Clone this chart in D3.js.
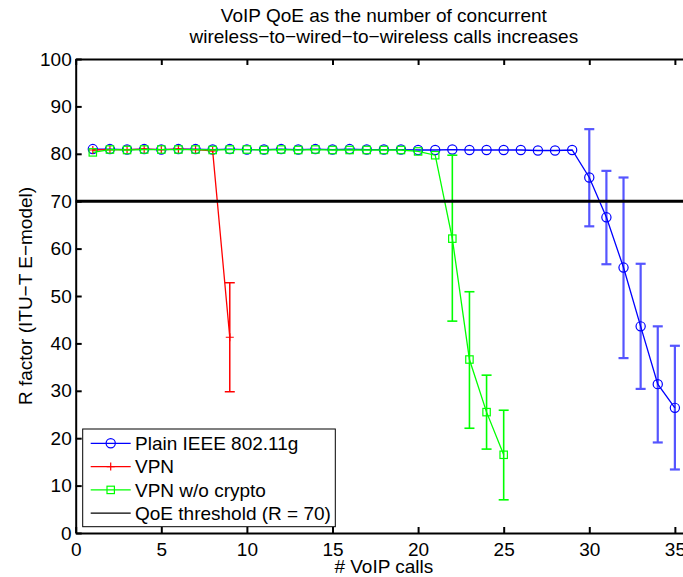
<!DOCTYPE html>
<html>
<head>
<meta charset="utf-8">
<script src="https://cdnjs.cloudflare.com/ajax/libs/d3/7.8.5/d3.min.js"></script>
<style>
    body { margin: 0; background: #fff; }
    svg { display: block; font-family: "Liberation Sans", Arial, Helvetica, sans-serif; }
    .axis path, .axis line { stroke: #000; stroke-width: 2; }
    .axis text { font-size: 19px; fill: #000; }
    .label { font-size: 19px; fill: #000; }
</style>
</head>
<body>
<div id="chart"></div>
<script>

// calls on the x axis
var plain_calls = d3.range(1, 36);
var vpn_calls = d3.range(1, 10);
var nocrypto_calls = d3.range(1, 26);

// mean R factor
var plain_values = [81.0, 81.0, 80.9, 81.0, 80.9, 81.0, 81.0, 80.9, 81.0, 80.9,
    80.9, 81.0, 80.9, 81.0, 80.9, 81.0, 80.9, 80.9, 80.9, 80.8,
    80.8, 80.9, 80.8, 80.8, 80.8, 80.8, 80.7, 80.7, 80.8, 75.0,
    66.6, 56.0, 43.6, 31.4, 26.4];
var vpn_values = [80.8, 80.9, 80.9, 81.0, 80.9, 81.0, 80.9, 80.6, 41.3];
var nocrypto_values = [80.3, 80.9, 80.8, 80.9, 80.9, 80.9, 80.9, 80.8, 80.9, 80.9,
    80.8, 80.9, 80.8, 80.9, 80.8, 80.8, 80.8, 80.8, 80.8, 80.5,
    79.7, 62.1, 36.6, 25.5, 16.5];

// error bars: [call, low, high]
var plain_errors = [[30, 64.7, 85.2], [31, 56.7, 76.4], [32, 36.9, 75.0],
    [33, 30.4, 56.8], [34, 19.1, 43.6], [35, 13.4, 39.5]];
var vpn_errors = [[9, 29.8, 52.8]];
var nocrypto_errors = [[22, 44.7, 79.7], [23, 22.1, 50.9], [24, 17.7, 33.3], [25, 7.0, 25.9]];

var threshold = 70;

var series_names = ["Plain IEEE 802.11g", "VPN", "VPN w/o crypto", "QoE threshold (R = 70)"];
var x_ticks = [0, 5, 10, 15, 20, 25, 30, 35];
var y_ticks = [0, 10, 20, 30, 40, 50, 60, 70, 80, 90, 100];

var width = 683, height = 577;
var margin = {top: 59, left: 75.7};
var w = 616.3, h = 474;

var svg = d3.select("#chart").append("svg")
    .attr("width", width)
    .attr("height", height);

var g = svg.append("g")
    .attr("transform", "translate(" + margin.left + "," + margin.top + ")");

var x = d3.scaleLinear().domain([0, 36]).range([0, w]);
var y = d3.scaleLinear().domain([0, 100]).range([h, 0]);

var series = [
    {name: series_names[0], calls: plain_calls, values: plain_values, errors: plain_errors,
        color: "#0000ff", bar_color: "#5555ff", bar_width: 2.2, marker: "circle"},
    {name: series_names[1], calls: vpn_calls, values: vpn_values, errors: vpn_errors,
        color: "#ff0000", bar_color: "#ff0000", bar_width: 1.5, marker: "plus"},
    {name: series_names[2], calls: nocrypto_calls, values: nocrypto_values, errors: nocrypto_errors,
        color: "#00ff00", bar_color: "#00ff00", bar_width: 1.6, marker: "square"}
];

var line = d3.line()
    .x(function(d) { return x(d[0]); })
    .y(function(d) { return y(d[1]); });

function drawMarker(sel, type, color) {
    if (type == "circle") {
        sel.append("circle").attr("r", 4.6)
            .attr("fill", "none").attr("stroke", color).attr("stroke-width", 1.2);
    } else if (type == "square") {
        sel.append("rect").attr("x", -3.7).attr("y", -3.7).attr("width", 7.4).attr("height", 7.4)
            .attr("fill", "none").attr("stroke", color).attr("stroke-width", 1.2);
    } else {
        sel.append("path").attr("d", "M-4,0H4M0,-4V4")
            .attr("stroke", color).attr("stroke-width", 1.2);
    }
}

series.forEach(function(s) {
    var pts = s.calls.map(function(c, i) { return [c, s.values[i]]; });
    var sg = g.append("g");

    // error bars
    var eb = sg.selectAll(".err").data(s.errors).enter().append("g")
        .attr("stroke", s.bar_color)
        .attr("stroke-width", s.bar_width);
    eb.append("line")
        .attr("x1", function(d) { return x(d[0]); })
        .attr("x2", function(d) { return x(d[0]); })
        .attr("y1", function(d) { return y(d[1]); })
        .attr("y2", function(d) { return y(d[2]); });
    [1, 2].forEach(function(k) {
        eb.append("line")
            .attr("x1", function(d) { return x(d[0]) - 5; })
            .attr("x2", function(d) { return x(d[0]) + 5; })
            .attr("y1", function(d) { return y(d[k]); })
            .attr("y2", function(d) { return y(d[k]); });
    });

    sg.append("path")
        .datum(pts)
        .attr("fill", "none")
        .attr("stroke", s.color)
        .attr("stroke-width", 1.3)
        .attr("d", line);

    sg.selectAll(".pt").data(pts).enter().append("g")
        .attr("transform", function(d) { return "translate(" + x(d[0]) + "," + y(d[1]) + ")"; })
        .each(function() { drawMarker(d3.select(this), s.marker, s.color); });
});

// threshold
g.append("line")
    .attr("x1", 0).attr("x2", w)
    .attr("y1", y(threshold)).attr("y2", y(threshold))
    .attr("stroke", "#000").attr("stroke-width", 3);

// axes (ticks point inwards like matlab)
g.append("g").attr("class", "axis")
    .attr("transform", "translate(0," + h + ")")
    .call(d3.axisBottom(x).tickValues(x_ticks).tickSizeInner(-6).tickSizeOuter(0).tickPadding(9.5));
g.append("g").attr("class", "axis")
    .call(d3.axisTop(x).tickValues(x_ticks).tickSizeInner(-6).tickSizeOuter(0).tickFormat(""));
g.append("g").attr("class", "axis")
    .call(d3.axisLeft(y).tickValues(y_ticks).tickSizeInner(-6).tickSizeOuter(0).tickPadding(4));
g.append("g").attr("class", "axis")
    .attr("transform", "translate(" + w + ",0)")
    .call(d3.axisRight(y).tickValues(y_ticks).tickSizeInner(-6).tickSizeOuter(0).tickFormat(""));
g.selectAll(".axis .tick line").attr("stroke-width", 1);

// title and labels
svg.append("text").attr("class", "label")
    .attr("text-anchor", "middle")
    .attr("x", margin.left + w / 2).attr("y", 21.7)
    .text("VoIP QoE as the number of concurrent");
svg.append("text").attr("class", "label")
    .attr("text-anchor", "middle")
    .attr("x", margin.left + w / 2).attr("y", 43.3)
    .text("wireless\u2212to\u2212wired\u2212to\u2212wireless calls increases");
svg.append("text").attr("class", "label")
    .attr("text-anchor", "middle")
    .attr("x", margin.left + w / 2).attr("y", 572.5)
    .text("# VoIP calls");
svg.append("text").attr("class", "label")
    .attr("text-anchor", "middle")
    .attr("transform", "translate(32," + (margin.top + h / 2) + ") rotate(-90)")
    .text("R factor (ITU\u2212T E\u2212model)");

// legend
var legend = svg.append("g").attr("transform", "translate(82.7,429)");
legend.append("rect")
    .attr("width", 252.6).attr("height", 97.7)
    .attr("fill", "#fff").attr("stroke", "#000").attr("stroke-width", 1);

var legend_items = series.concat([{name: series_names[3], color: "#000"}]);
var li = legend.selectAll(".li").data(legend_items).enter().append("g")
    .attr("transform", function(d, i) { return "translate(0," + (14.3 + i * 23.3) + ")"; });
li.append("line")
    .attr("x1", 8).attr("x2", 48)
    .attr("stroke", function(d) { return d.color; })
    .attr("stroke-width", 1.3);
li.each(function(d) {
    if (d.marker) {
        var m = d3.select(this).append("g").attr("transform", "translate(28,0)");
        drawMarker(m, d.marker, d.color);
    }
});
li.append("text").attr("class", "label")
    .attr("x", 52.3).attr("dy", "0.35em")
    .text(function(d) { return d.name; });

</script>
</body>
</html>
